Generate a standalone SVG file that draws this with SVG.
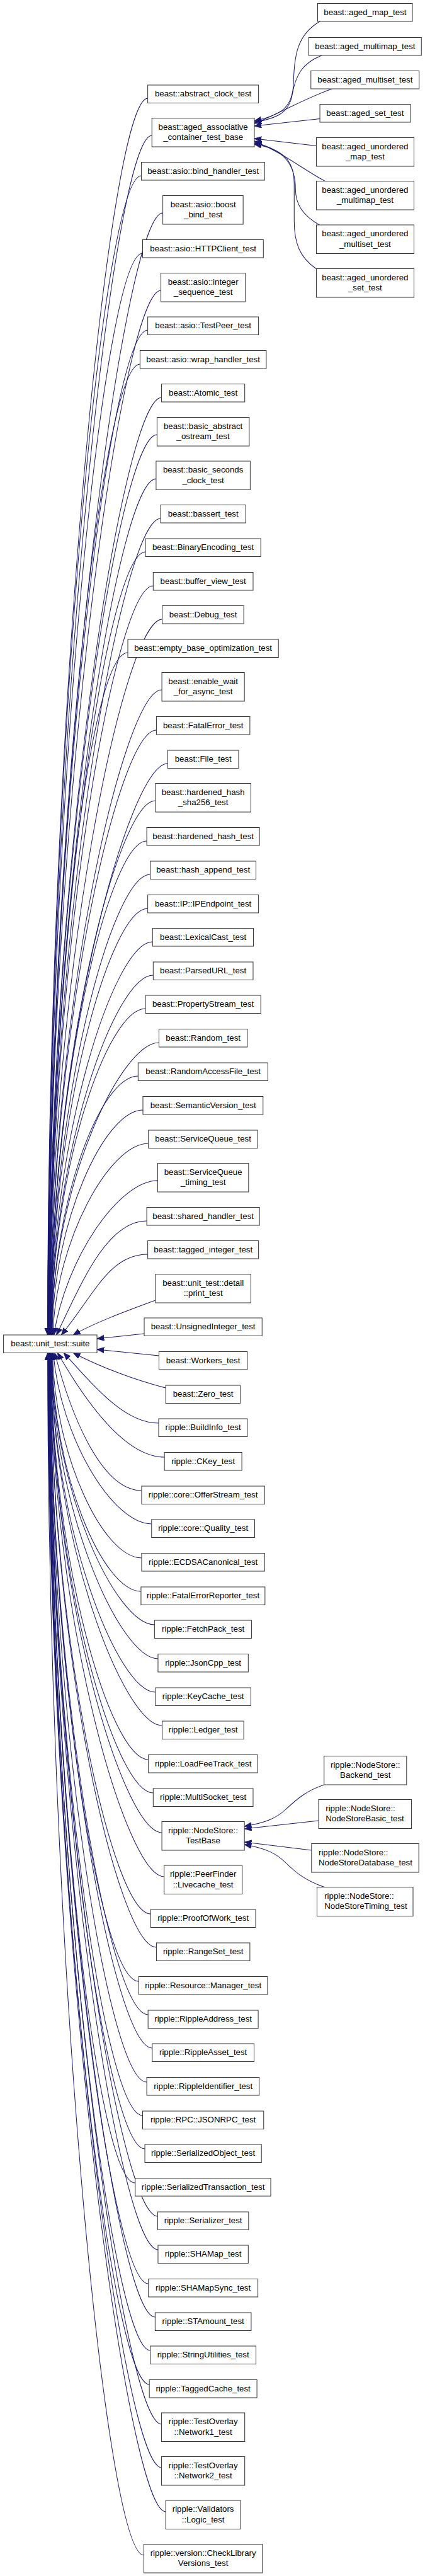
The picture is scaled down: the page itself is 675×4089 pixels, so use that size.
<svg xmlns="http://www.w3.org/2000/svg" width="675" height="4089" viewBox="0 0 675 4089">
<defs>
<marker id="ah" markerWidth="12" markerHeight="10" refX="11" refY="4.5" orient="auto" markerUnits="userSpaceOnUse"><path d="M0,0 L11,4.5 L0,9 z" fill="#191970" stroke="#191970" stroke-width="0.8"/></marker>
</defs>
<style>
.n rect{fill:#fff;stroke:#333;stroke-width:1}
.n text{font-family:"Liberation Sans",Arial,sans-serif;font-size:13px;fill:#000;text-anchor:middle}
.n text.l{text-anchor:start}
.e path{fill:none;stroke:#191970;stroke-width:1;marker-end:url(#ah)}
</style>
<rect x="0" y="0" width="675" height="4089" fill="#fff"/>
<g id="graph" transform="matrix(1.0202,0,0,1,0,0)">
<g id="edges" class="e">
<path d="M498,34 C462,55 458,90 457,130 C456,170 440,182 396,192"/>
<path d="M502,87.5 C470,100 460,120 455,150 C450,180 430,188 396,194"/>
<path d="M517,141 C470,158 440,178 396,196"/>
<path d="M498,188.5 L396,200"/>
<path d="M492.5,231.5 L396,220"/>
<path d="M506,287.5 C470,268 445,245 396,224"/>
<path d="M497,357 C472,342 460,325 460,300 C460,262 442,236 396,227"/>
<path d="M492,426.5 C466,408 458,385 458,350 L458,290 C458,255 440,236 396,229"/>
<path d="M505,2833 C475,2843 460,2858 445,2872 C430,2886 415,2893 380.5,2899"/>
<path d="M496,2890 L380.5,2903"/>
<path d="M485,2937 L380.5,2924"/>
<path d="M505,2995.5 C475,2985 460,2972 445,2957 C430,2942 415,2934 380.5,2928"/>
<path d="M230,156 C170,156 74,1137.5 74,2119"/>
<path d="M236.5,215 C176.5,215 74.3,1167 74.3,2119"/>
<path d="M220,279 C160,279 74.5,1199 74.5,2119"/>
<path d="M253.5,338 C193.5,338 74.8,1228.5 74.8,2119"/>
<path d="M222,402 C162,402 75.1,1260.5 75.1,2119"/>
<path d="M250.5,461 C190.5,461 75.3,1290 75.3,2119"/>
<path d="M230,524 C170,524 75.6,1321.5 75.6,2119"/>
<path d="M218,578 C158,578 75.8,1348.5 75.8,2119"/>
<path d="M251.5,631 C191.5,631 76,1375 76,2119"/>
<path d="M244.5,690 C184.5,690 76.3,1404.5 76.3,2119"/>
<path d="M243,760 C183,760 76.6,1439.5 76.6,2119"/>
<path d="M250,823 C190,823 76.8,1471 76.8,2119"/>
<path d="M226.5,876 C166.5,876 77,1497.5 77,2119"/>
<path d="M238.5,930 C178.5,930 77.3,1524.5 77.3,2119"/>
<path d="M252.5,983 C192.5,983 77.5,1551 77.5,2119"/>
<path d="M199,1036 C139,1036 77.7,1577.5 77.7,2119"/>
<path d="M252,1095 C192,1095 78,1607 78,2119"/>
<path d="M243.5,1159 C183.5,1159 78.2,1639 78.2,2119"/>
<path d="M261,1212 C201,1212 78.5,1665.5 78.5,2119"/>
<path d="M242,1271 C182,1271 78.7,1695 78.7,2119"/>
<path d="M228.5,1335 C168.5,1335 79,1727 79,2119"/>
<path d="M234,1388 C174,1388 79.2,1753.5 79.2,2119"/>
<path d="M230,1442 C170,1442 79.4,1780.5 79.4,2119"/>
<path d="M237.5,1495 C177.5,1495 79.7,1807 79.7,2119"/>
<path d="M238.5,1548 C178.5,1548 79.9,1833.5 79.9,2119"/>
<path d="M226.5,1601 C166.5,1601 80.2,1860 80.2,2119"/>
<path d="M247.5,1655 C187.5,1655 80.5,1887 80.5,2119"/>
<path d="M215,1708 C155,1708 80.8,1913.5 80.8,2119"/>
<path d="M222.5,1762 C162.5,1762 82.5,1940.5 81.3,2119"/>
<path d="M231,1815 C171,1815 87.6,1967 82.1,2119"/>
<path d="M245.5,1874 C185.5,1874 102.7,1996.5 83.9,2119"/>
<path d="M228.5,1938 C168.5,1938 129.9,2028.5 88,2119"/>
<path d="M230,1991 C170,1991 146.8,2055 95.5,2119"/>
<path d="M242,2064 C205,2078 150,2098 114,2119"/>
<path d="M224.5,2117 L151,2125"/>
<path d="M247.5,2152 L151,2142"/>
<path d="M258,2203 C215,2192 160,2172 114,2147.5"/>
<path d="M247,2259 C194.6,2259 148.9,2203.3 99.3,2147.5"/>
<path d="M256,2313 C196,2313 136.3,2230.3 89.7,2147.5"/>
<path d="M220.5,2366 C160.5,2366 113.3,2256.8 85.2,2147.5"/>
<path d="M236,2419 C176,2419 94.3,2283.3 82.9,2147.5"/>
<path d="M220.5,2473 C160.5,2473 84.8,2310.3 81.7,2147.5"/>
<path d="M219.5,2526 C159.5,2526 81.7,2336.8 81.1,2147.5"/>
<path d="M240.5,2579 C180.5,2579 80.7,2363.3 80.7,2147.5"/>
<path d="M246,2633 C186,2633 80.3,2390.3 80.3,2147.5"/>
<path d="M242,2686 C182,2686 80,2416.8 80,2147.5"/>
<path d="M252.5,2739 C192.5,2739 79.8,2443.3 79.8,2147.5"/>
<path d="M231,2793 C171,2793 79.5,2470.3 79.5,2147.5"/>
<path d="M238.5,2846 C178.5,2846 79.3,2496.8 79.3,2147.5"/>
<path d="M252,2909 C192,2909 79.1,2528.3 79.1,2147.5"/>
<path d="M255.5,2979 C195.5,2979 78.8,2563.3 78.8,2147.5"/>
<path d="M234.5,3038 C174.5,3038 78.5,2592.8 78.5,2147.5"/>
<path d="M243.5,3091 C183.5,3091 78.3,2619.3 78.3,2147.5"/>
<path d="M216,3145 C156,3145 78.1,2646.3 78.1,2147.5"/>
<path d="M230.5,3198 C170.5,3198 77.9,2672.8 77.9,2147.5"/>
<path d="M237,3251 C177,3251 77.6,2699.3 77.6,2147.5"/>
<path d="M228.5,3305 C168.5,3305 77.4,2726.3 77.4,2147.5"/>
<path d="M222,3358 C162,3358 77.2,2752.8 77.2,2147.5"/>
<path d="M225.5,3411 C165.5,3411 77,2779.3 77,2147.5"/>
<path d="M210.5,3465 C150.5,3465 76.7,2806.3 76.7,2147.5"/>
<path d="M245.5,3518 C185.5,3518 76.5,2832.8 76.5,2147.5"/>
<path d="M246,3571 C186,3571 76.3,2859.3 76.3,2147.5"/>
<path d="M231,3625 C171,3625 76.1,2886.3 76.1,2147.5"/>
<path d="M241.5,3678 C181.5,3678 75.8,2912.8 75.8,2147.5"/>
<path d="M234,3731 C174,3731 75.6,2939.3 75.6,2147.5"/>
<path d="M232.5,3785 C172.5,3785 75.4,2966.3 75.4,2147.5"/>
<path d="M251.5,3848 C191.5,3848 75.1,2997.8 75.1,2147.5"/>
<path d="M251.5,3917 C191.5,3917 74.8,3032.3 74.8,2147.5"/>
<path d="M258,3987 C198,3987 74.5,3067.3 74.5,2147.5"/>
<path d="M224,4056 C164,4056 74.2,3101.8 74.2,2147.5"/>
</g>
<g id="node-suite" class="n"><rect x="5.5" y="2119" width="145.5" height="28.5"/><text x="78.25" y="2137.25">beast::unit_test::suite</text></g>
<g id="node-aged_map_test" class="n"><rect x="494.5" y="5.5" width="147.5" height="28.5"/><text x="568.4" y="23.75">beast::aged_map_test</text></g>
<g id="node-aged_multimap_test" class="n"><rect x="480.5" y="59.5" width="175.5" height="28.5"/><text x="568.4" y="77.75">beast::aged_multimap_test</text></g>
<g id="node-aged_multiset_test" class="n"><rect x="484" y="112.5" width="168.5" height="28.5"/><text x="568.4" y="130.75">beast::aged_multiset_test</text></g>
<g id="node-aged_set_test" class="n"><rect x="498" y="165.5" width="141" height="28.5"/><text x="568.4" y="183.75">beast::aged_set_test</text></g>
<g id="node-aged_unordered_map_test" class="n"><rect x="492.5" y="218.5" width="152" height="45.5"/><text x="568.4" y="236.75">beast::aged_unordered</text><text x="568.4" y="253.25">_map_test</text></g>
<g id="node-aged_unordered_multimap_test" class="n"><rect x="492.5" y="287.5" width="152" height="45.5"/><text x="568.4" y="305.75">beast::aged_unordered</text><text x="568.4" y="322.25">_multimap_test</text></g>
<g id="node-aged_unordered_multiset_test" class="n"><rect x="492.5" y="357" width="152" height="45.5"/><text x="568.4" y="375.25">beast::aged_unordered</text><text x="568.4" y="391.75">_multiset_test</text></g>
<g id="node-aged_unordered_set_test" class="n"><rect x="492.5" y="426.5" width="152" height="45.5"/><text x="568.4" y="444.75">beast::aged_unordered</text><text x="568.4" y="461.25">_set_test</text></g>
<g id="node-Backend_test" class="n"><rect x="504.5" y="2787.5" width="128.5" height="45.5"/><text x="568.75" y="2805.75">ripple::NodeStore::</text><text x="568.75" y="2822.25">Backend_test</text></g>
<g id="node-NodeStoreBasic_test" class="n"><rect x="496" y="2856.5" width="144.5" height="46"/><text class="l" x="507" y="2875">ripple::NodeStore::</text><text class="l" x="507" y="2891.5">NodeStoreBasic_test</text></g>
<g id="node-NodeStoreDatabase_test" class="n"><rect x="485" y="2926.5" width="167" height="45.5"/><text class="l" x="496" y="2944.75">ripple::NodeStore::</text><text class="l" x="496" y="2961.25">NodeStoreDatabase_test</text></g>
<g id="node-NodeStoreTiming_test" class="n"><rect x="493.5" y="2995.5" width="149.5" height="46"/><text class="l" x="505" y="3014">ripple::NodeStore::</text><text class="l" x="505" y="3030.5">NodeStoreTiming_test</text></g>
<g id="node-abstract_clock_test" class="n"><rect x="230" y="135" width="172.5" height="28.5"/><text x="316.25" y="153.25">beast::abstract_clock_test</text></g>
<g id="node-aged_associative_container_test_base" class="n"><rect x="236.5" y="187.5" width="159.5" height="45.5"/><text x="316.25" y="205.75">beast::aged_associative</text><text x="316.25" y="222.25">_container_test_base</text></g>
<g id="node-bind_handler_test" class="n"><rect x="220" y="257.5" width="192" height="28.5"/><text x="316.25" y="275.75">beast::asio::bind_handler_test</text></g>
<g id="node-boost_bind_test" class="n"><rect x="253.5" y="310.5" width="125" height="45.5"/><text x="316.25" y="328.75">beast::asio::boost</text><text x="316.25" y="345.25">_bind_test</text></g>
<g id="node-HTTPClient_test" class="n"><rect x="222" y="380.5" width="188" height="28.5"/><text x="316.25" y="398.75">beast::asio::HTTPClient_test</text></g>
<g id="node-integer_sequence_test" class="n"><rect x="250.5" y="433.5" width="131.5" height="45.5"/><text x="316.25" y="451.75">beast::asio::integer</text><text x="316.25" y="468.25">_sequence_test</text></g>
<g id="node-TestPeer_test" class="n"><rect x="230" y="503" width="172.5" height="28.5"/><text x="316.25" y="521.25">beast::asio::TestPeer_test</text></g>
<g id="node-wrap_handler_test" class="n"><rect x="218" y="556.5" width="196.5" height="28.5"/><text x="316.25" y="574.75">beast::asio::wrap_handler_test</text></g>
<g id="node-Atomic_test" class="n"><rect x="251.5" y="609.5" width="129.5" height="28.5"/><text x="316.25" y="627.75">beast::Atomic_test</text></g>
<g id="node-basic_abstract_ostream_test" class="n"><rect x="244.5" y="662.5" width="143.5" height="45.5"/><text x="316.25" y="680.75">beast::basic_abstract</text><text x="316.25" y="697.25">_ostream_test</text></g>
<g id="node-basic_seconds_clock_test" class="n"><rect x="243" y="732" width="146.5" height="45.5"/><text x="316.25" y="750.25">beast::basic_seconds</text><text x="316.25" y="766.75">_clock_test</text></g>
<g id="node-bassert_test" class="n"><rect x="250" y="801.5" width="132.5" height="28.5"/><text x="316.25" y="819.75">beast::bassert_test</text></g>
<g id="node-BinaryEncoding_test" class="n"><rect x="226.5" y="855" width="179.5" height="28.5"/><text x="316.25" y="873.25">beast::BinaryEncoding_test</text></g>
<g id="node-buffer_view_test" class="n"><rect x="238.5" y="908.5" width="155.5" height="28.5"/><text x="316.25" y="926.75">beast::buffer_view_test</text></g>
<g id="node-Debug_test" class="n"><rect x="252.5" y="961.5" width="127" height="28.5"/><text x="316.25" y="979.75">beast::Debug_test</text></g>
<g id="node-empty_base_optimization_test" class="n"><rect x="199" y="1015" width="234.5" height="28.5"/><text x="316.25" y="1033.25">beast::empty_base_optimization_test</text></g>
<g id="node-enable_wait_for_async_test" class="n"><rect x="252" y="1067.5" width="128.5" height="45.5"/><text x="316.25" y="1085.75">beast::enable_wait</text><text x="316.25" y="1102.25">_for_async_test</text></g>
<g id="node-FatalError_test" class="n"><rect x="243.5" y="1137.5" width="145.5" height="28.5"/><text x="316.25" y="1155.75">beast::FatalError_test</text></g>
<g id="node-File_test" class="n"><rect x="261" y="1191" width="110.5" height="28.5"/><text x="316.25" y="1209.25">beast::File_test</text></g>
<g id="node-hardened_hash_sha256_test" class="n"><rect x="242" y="1243.5" width="148.5" height="45.5"/><text x="316.25" y="1261.75">beast::hardened_hash</text><text x="316.25" y="1278.25">_sha256_test</text></g>
<g id="node-hardened_hash_test" class="n"><rect x="228.5" y="1313.5" width="175.5" height="28.5"/><text x="316.25" y="1331.75">beast::hardened_hash_test</text></g>
<g id="node-hash_append_test" class="n"><rect x="234" y="1367" width="164.5" height="28.5"/><text x="316.25" y="1385.25">beast::hash_append_test</text></g>
<g id="node-IPEndpoint_test" class="n"><rect x="230" y="1420.5" width="172.5" height="28.5"/><text x="316.25" y="1438.75">beast::IP::IPEndpoint_test</text></g>
<g id="node-LexicalCast_test" class="n"><rect x="237.5" y="1473.5" width="157" height="28.5"/><text x="316.25" y="1491.75">beast::LexicalCast_test</text></g>
<g id="node-ParsedURL_test" class="n"><rect x="238.5" y="1527" width="155.5" height="28.5"/><text x="316.25" y="1545.25">beast::ParsedURL_test</text></g>
<g id="node-PropertyStream_test" class="n"><rect x="226.5" y="1580" width="179.5" height="28.5"/><text x="316.25" y="1598.25">beast::PropertyStream_test</text></g>
<g id="node-Random_test" class="n"><rect x="247.5" y="1633.5" width="137.5" height="28.5"/><text x="316.25" y="1651.75">beast::Random_test</text></g>
<g id="node-RandomAccessFile_test" class="n"><rect x="215" y="1687" width="202" height="28.5"/><text x="316.25" y="1705.25">beast::RandomAccessFile_test</text></g>
<g id="node-SemanticVersion_test" class="n"><rect x="222.5" y="1740.5" width="187" height="28.5"/><text x="316.25" y="1758.75">beast::SemanticVersion_test</text></g>
<g id="node-ServiceQueue_test" class="n"><rect x="231" y="1794" width="170" height="28.5"/><text x="316.25" y="1812.25">beast::ServiceQueue_test</text></g>
<g id="node-ServiceQueue_timing_test" class="n"><rect x="245.5" y="1846.5" width="141.5" height="45.5"/><text x="316.25" y="1864.75">beast::ServiceQueue</text><text x="316.25" y="1881.25">_timing_test</text></g>
<g id="node-shared_handler_test" class="n"><rect x="228.5" y="1916.5" width="175.5" height="28.5"/><text x="316.25" y="1934.75">beast::shared_handler_test</text></g>
<g id="node-tagged_integer_test" class="n"><rect x="230" y="1969.5" width="172.5" height="28.5"/><text x="316.25" y="1987.75">beast::tagged_integer_test</text></g>
<g id="node-print_test" class="n"><rect x="242" y="2022.5" width="148.5" height="45.5"/><text x="316.25" y="2040.75">beast::unit_test::detail</text><text x="316.25" y="2057.25">::print_test</text></g>
<g id="node-UnsignedInteger_test" class="n"><rect x="224.5" y="2092" width="183.5" height="28.5"/><text x="316.25" y="2110.25">beast::UnsignedInteger_test</text></g>
<g id="node-Workers_test" class="n"><rect x="247.5" y="2145.5" width="137.5" height="28.5"/><text x="316.25" y="2163.75">beast::Workers_test</text></g>
<g id="node-Zero_test" class="n"><rect x="258" y="2199" width="116" height="28.5"/><text x="316.25" y="2217.25">beast::Zero_test</text></g>
<g id="node-BuildInfo_test" class="n"><rect x="247" y="2252" width="138" height="28.5"/><text x="316.25" y="2270.25">ripple::BuildInfo_test</text></g>
<g id="node-CKey_test" class="n"><rect x="256" y="2305.5" width="120.5" height="28.5"/><text x="316.25" y="2323.75">ripple::CKey_test</text></g>
<g id="node-OfferStream_test" class="n"><rect x="220.5" y="2359" width="191.5" height="28.5"/><text x="316.25" y="2377.25">ripple::core::OfferStream_test</text></g>
<g id="node-Quality_test" class="n"><rect x="236" y="2412" width="160.5" height="28.5"/><text x="316.25" y="2430.25">ripple::core::Quality_test</text></g>
<g id="node-ECDSACanonical_test" class="n"><rect x="220.5" y="2465.5" width="191.5" height="28.5"/><text x="316.25" y="2483.75">ripple::ECDSACanonical_test</text></g>
<g id="node-FatalErrorReporter_test" class="n"><rect x="219.5" y="2519" width="193" height="28.5"/><text x="316.25" y="2537.25">ripple::FatalErrorReporter_test</text></g>
<g id="node-FetchPack_test" class="n"><rect x="240.5" y="2572" width="151" height="28.5"/><text x="316.25" y="2590.25">ripple::FetchPack_test</text></g>
<g id="node-JsonCpp_test" class="n"><rect x="246" y="2625.5" width="140.5" height="28.5"/><text x="316.25" y="2643.75">ripple::JsonCpp_test</text></g>
<g id="node-KeyCache_test" class="n"><rect x="242" y="2679" width="148.5" height="28.5"/><text x="316.25" y="2697.25">ripple::KeyCache_test</text></g>
<g id="node-Ledger_test" class="n"><rect x="252.5" y="2732" width="127" height="28.5"/><text x="316.25" y="2750.25">ripple::Ledger_test</text></g>
<g id="node-LoadFeeTrack_test" class="n"><rect x="231" y="2785.5" width="170" height="28.5"/><text x="316.25" y="2803.75">ripple::LoadFeeTrack_test</text></g>
<g id="node-MultiSocket_test" class="n"><rect x="238.5" y="2839" width="155.5" height="28.5"/><text x="316.25" y="2857.25">ripple::MultiSocket_test</text></g>
<g id="node-TestBase" class="n"><rect x="252" y="2891.5" width="128.5" height="45.5"/><text x="316.25" y="2909.75">ripple::NodeStore::</text><text x="316.25" y="2926.25">TestBase</text></g>
<g id="node-Livecache_test" class="n"><rect x="255.5" y="2961" width="121.5" height="45.5"/><text x="316.25" y="2979.25">ripple::PeerFinder</text><text x="316.25" y="2995.75">::Livecache_test</text></g>
<g id="node-ProofOfWork_test" class="n"><rect x="234.5" y="3031" width="163.5" height="28.5"/><text x="316.25" y="3049.25">ripple::ProofOfWork_test</text></g>
<g id="node-RangeSet_test" class="n"><rect x="243.5" y="3084" width="145.5" height="28.5"/><text x="316.25" y="3102.25">ripple::RangeSet_test</text></g>
<g id="node-Manager_test" class="n"><rect x="216" y="3137.5" width="200.5" height="28.5"/><text x="316.25" y="3155.75">ripple::Resource::Manager_test</text></g>
<g id="node-RippleAddress_test" class="n"><rect x="230.5" y="3191" width="171.5" height="28.5"/><text x="316.25" y="3209.25">ripple::RippleAddress_test</text></g>
<g id="node-RippleAsset_test" class="n"><rect x="237" y="3244" width="158.5" height="28.5"/><text x="316.25" y="3262.25">ripple::RippleAsset_test</text></g>
<g id="node-RippleIdentifier_test" class="n"><rect x="228.5" y="3297.5" width="175" height="28.5"/><text x="316.25" y="3315.75">ripple::RippleIdentifier_test</text></g>
<g id="node-JSONRPC_test" class="n"><rect x="222" y="3351" width="188.5" height="28.5"/><text x="316.25" y="3369.25">ripple::RPC::JSONRPC_test</text></g>
<g id="node-SerializedObject_test" class="n"><rect x="225.5" y="3404" width="181.5" height="28.5"/><text x="316.25" y="3422.25">ripple::SerializedObject_test</text></g>
<g id="node-SerializedTransaction_test" class="n"><rect x="210.5" y="3457.5" width="211" height="28.5"/><text x="316.25" y="3475.75">ripple::SerializedTransaction_test</text></g>
<g id="node-Serializer_test" class="n"><rect x="245.5" y="3511" width="141.5" height="28.5"/><text x="316.25" y="3529.25">ripple::Serializer_test</text></g>
<g id="node-SHAMap_test" class="n"><rect x="246" y="3564" width="140.5" height="28.5"/><text x="316.25" y="3582.25">ripple::SHAMap_test</text></g>
<g id="node-SHAMapSync_test" class="n"><rect x="231" y="3617.5" width="170.5" height="28.5"/><text x="316.25" y="3635.75">ripple::SHAMapSync_test</text></g>
<g id="node-STAmount_test" class="n"><rect x="241.5" y="3671" width="149.5" height="28.5"/><text x="316.25" y="3689.25">ripple::STAmount_test</text></g>
<g id="node-StringUtilities_test" class="n"><rect x="234" y="3724" width="164.5" height="28.5"/><text x="316.25" y="3742.25">ripple::StringUtilities_test</text></g>
<g id="node-TaggedCache_test" class="n"><rect x="232.5" y="3777.5" width="167.5" height="28.5"/><text x="316.25" y="3795.75">ripple::TaggedCache_test</text></g>
<g id="node-Network1_test" class="n"><rect x="251.5" y="3830" width="129.5" height="45.5"/><text x="316.25" y="3848.25">ripple::TestOverlay</text><text x="316.25" y="3864.75">::Network1_test</text></g>
<g id="node-Network2_test" class="n"><rect x="251.5" y="3899.5" width="129.5" height="45.5"/><text x="316.25" y="3917.75">ripple::TestOverlay</text><text x="316.25" y="3934.25">::Network2_test</text></g>
<g id="node-Logic_test" class="n"><rect x="258" y="3969" width="116.5" height="45.5"/><text x="316.25" y="3987.25">ripple::Validators</text><text x="316.25" y="4003.75">::Logic_test</text></g>
<g id="node-CheckLibraryVersions_test" class="n"><rect x="224" y="4038.5" width="184.5" height="45.5"/><text x="316.25" y="4056.75">ripple::version::CheckLibrary</text><text x="316.25" y="4073.25">Versions_test</text></g>
</g>
</svg>
